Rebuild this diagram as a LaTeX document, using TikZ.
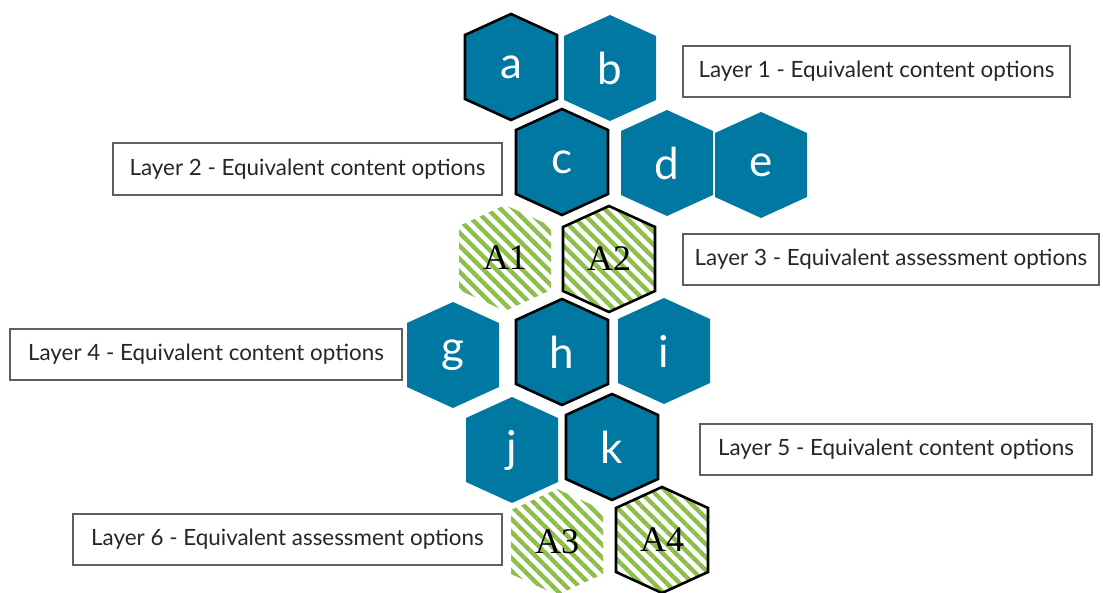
\documentclass[tikz,border=0pt]{standalone}
\usepackage{fontspec}
\setmainfont{Lato}
\newfontfamily\serifA{Liberation Serif}
\usetikzlibrary{patterns.meta}
\definecolor{hexblue}{RGB}{0,120,162}
\definecolor{hatchgreen}{RGB}{141,190,76}
\definecolor{boxgray}{RGB}{95,95,95}
\tikzset{
  pics/hexa/.style={code={
    \path[pic actions] (0,-53)--(46,-32)--(46,32)--(0,53)--(-46,32)--(-46,-32)--cycle;}},
  hexfill/.style={fill=hexblue},
  hexsel/.style={draw=black, line width=1.3pt, line join=miter},
  hexhatch/.style={pattern={Lines[angle=-45,distance=4.6pt,line width=2.2pt]}, pattern color=hatchgreen},
  letter/.style={text=white, font=\fontsize{22}{22}\selectfont},
  assess/.style={text=black, font=\serifA\fontsize{18}{18}\selectfont},
  layerbox/.style={draw=boxgray, line width=0.6pt, fill=white, inner sep=0pt,
    text=black!85, font=\fontsize{11.2}{12}\selectfont}
}
\begin{document}
\begin{tikzpicture}
[x=0.5pt,y=-0.5pt]
\useasboundingbox (0,0) rectangle (1103,593);
% layer 1
\pic[hexfill,hexsel] at (511,67) {hexa};
\node[letter] (a) at (511,67) {a};
\pic[hexfill] at (610,68) {hexa};
\node[letter] (b) at (610,68) {b};
% layer 2
\pic[hexfill,hexsel] at (562,162) {hexa};
\node[letter] (c) at (562,162) {c};
\pic[hexfill] at (667,163) {hexa};
\node[letter] (d) at (667,163) {d};
\pic[hexfill] at (761,165) {hexa};
\node[letter] (e) at (761,165) {e};
% layer 3
\pic[hexhatch] at (505,258) {hexa};
\node[assess] (A1) at (505,258) {A1};
\pic[hexhatch,hexsel] at (609,259) {hexa};
\node[assess] (A2) at (609,259) {A2};
% layer 4
\pic[hexfill] at (453,355) {hexa};
\node[letter] (g) at (453,355) {g};
\pic[hexfill,hexsel] at (562,352) {hexa};
\node[letter] (h) at (562,352) {h};
\pic[hexfill] at (664,351) {hexa};
\node[letter] (i) at (664,351) {i};
% layer 5
\pic[hexfill] at (512,450) {hexa};
\node[letter] (j) at (512,450) {j};
\pic[hexfill,hexsel] at (612,447) {hexa};
\node[letter] (k) at (612,447) {k};
% layer 6
\pic[hexhatch] at (557,542) {hexa};
\node[assess] (A3) at (557,542) {A3};
\pic[hexhatch,hexsel] at (662,540) {hexa};
\node[assess] (A4) at (662,540) {A4};
% layer labels
\node[layerbox,minimum width=193.5pt,minimum height=25.5pt] (L1) at (876.5,71.5) {Layer 1 - Equivalent content options};
\node[layerbox,minimum width=194.5pt,minimum height=26pt] (L2) at (307.5,169) {Layer 2 - Equivalent content options};
\node[layerbox,minimum width=208pt,minimum height=25.5pt] (L3) at (891,259.5) {Layer 3 - Equivalent assessment options};
\node[layerbox,minimum width=196pt,minimum height=25.5pt] (L4) at (206,354.5) {Layer 4 - Equivalent content options};
\node[layerbox,minimum width=196pt,minimum height=25.5pt] (L5) at (896,449.5) {Layer 5 - Equivalent content options};
\node[layerbox,minimum width=214.5pt,minimum height=25.5pt] (L6) at (287.5,539.5) {Layer 6 - Equivalent assessment options};
\end{tikzpicture}
\end{document}
